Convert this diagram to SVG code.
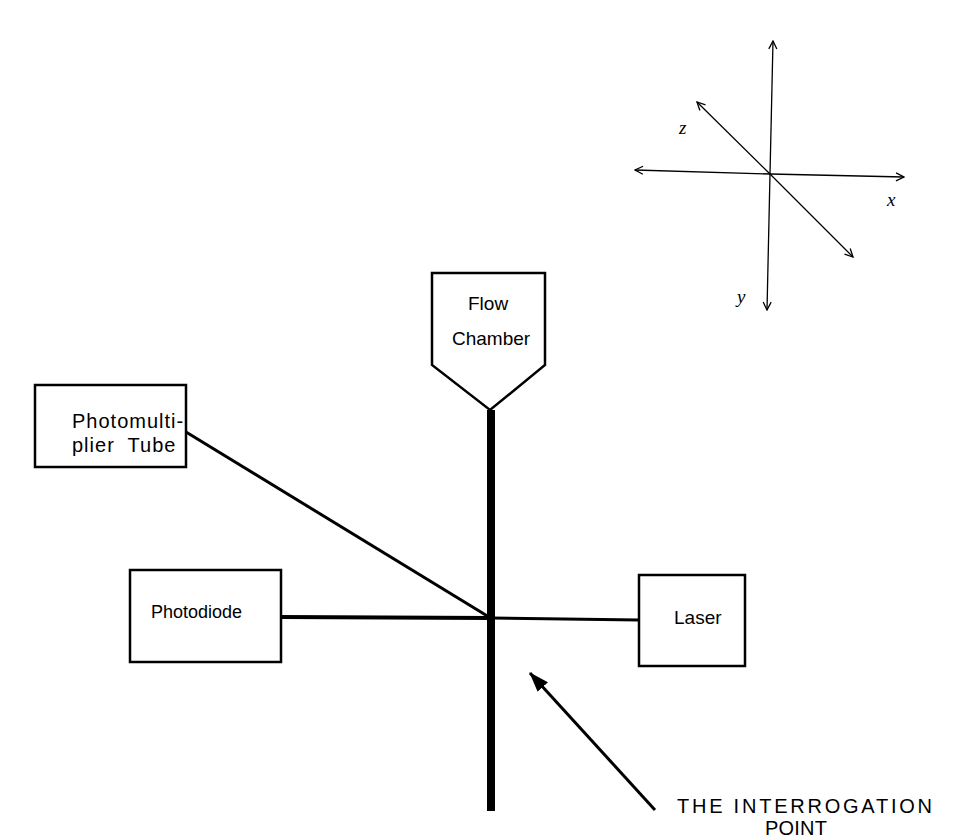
<svg xmlns="http://www.w3.org/2000/svg" width="976" height="839" viewBox="0 0 976 839">
<style>
.box{fill:#fff;stroke:#000;stroke-width:2.5}
.lbl{font-family:"Liberation Sans",Arial,sans-serif;font-size:19px;fill:#000}
.ax{stroke:#000;stroke-width:1.3;fill:none}
.axl{font-family:"Liberation Serif","Times New Roman",serif;font-style:italic;font-size:19px;fill:#000}
.conn{stroke:#000;fill:none}
</style>
<defs>
<marker id="open" viewBox="0 0 10 10" refX="9" refY="5" markerWidth="10" markerHeight="10" markerUnits="userSpaceOnUse" orient="auto">
<path d="M1,1 L9,5 L1,9" fill="none" stroke="#000" stroke-width="1.3"/>
</marker>
<marker id="solid" viewBox="0 0 20 14" refX="19" refY="7" markerWidth="20" markerHeight="14" markerUnits="userSpaceOnUse" orient="auto">
<path d="M0,0 L20,7 L0,14 Z" fill="#000"/>
</marker>
</defs>
<rect width="976" height="839" fill="#fff"/>
<g id="axes">
<line class="ax" x1="770" y1="174" x2="773" y2="41" marker-end="url(#open)"/>
<line class="ax" x1="770" y1="174" x2="767" y2="310" marker-end="url(#open)"/>
<line class="ax" x1="770" y1="174" x2="635" y2="170" marker-end="url(#open)"/>
<line class="ax" x1="770" y1="174" x2="904" y2="177" marker-end="url(#open)"/>
<line class="ax" x1="770" y1="174" x2="697" y2="102" marker-end="url(#open)"/>
<line class="ax" x1="770" y1="174" x2="853" y2="257" marker-end="url(#open)"/>
<text class="axl" x="679" y="134">z</text>
<text class="axl" x="887" y="206">x</text>
<text class="axl" x="737" y="303">y</text>
</g>
<g id="connectors">
<line class="conn" x1="491" y1="410" x2="491" y2="811" stroke-width="8"/>
<line class="conn" x1="186" y1="432" x2="489" y2="617" stroke-width="3"/>
<line class="conn" x1="281" y1="617" x2="491" y2="618" stroke-width="4"/>
<line class="conn" x1="491" y1="618" x2="639" y2="620" stroke-width="3"/>
<line class="conn" x1="655" y1="810" x2="530" y2="673" stroke-width="3" marker-end="url(#solid)"/>
</g>
<g id="flow-chamber">
<path class="box" d="M432,273 L545,273 L545,365 L490,410 L432,365 Z"/>
<text class="lbl" x="468" y="310">Flow</text>
<text class="lbl" x="452" y="345">Chamber</text>
</g>
<g id="pmt">
<rect class="box" x="35" y="385" width="151" height="82"/>
<text class="lbl" x="72" y="428" style="font-size:20px;letter-spacing:1px">Photomulti-</text>
<text class="lbl" x="72" y="452" style="font-size:20px;letter-spacing:1px" xml:space="preserve">plier  Tube</text>
</g>
<g id="photodiode">
<rect class="box" x="130" y="570" width="151" height="92"/>
<text class="lbl" x="151" y="618" style="font-size:18px">Photodiode</text>
</g>
<g id="laser">
<rect class="box" x="639" y="575" width="106" height="91"/>
<text class="lbl" x="674" y="624">Laser</text>
</g>
<g id="label">
<text class="lbl" x="677" y="813" style="font-size:20px" textLength="255" lengthAdjust="spacing">THE INTERROGATION</text>
<text class="lbl" x="765" y="835" style="font-size:20px" textLength="62" lengthAdjust="spacing">POINT</text>
</g>
</svg>
